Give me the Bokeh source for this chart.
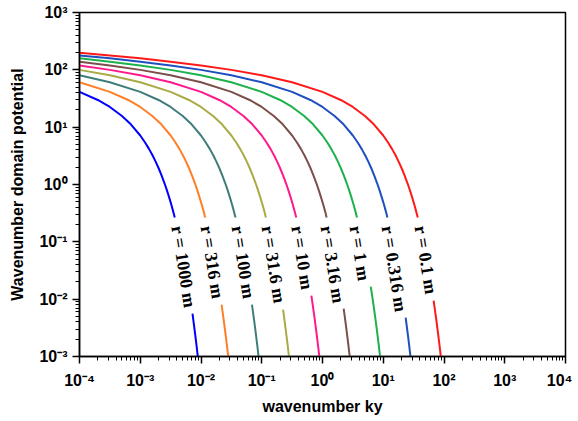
from bokeh.plotting import figure
from bokeh.models import FixedTicker, CustomJSTickFormatter, Range1d, ColumnDataSource
from bokeh.core.properties import value
from bokeh.embed import file_html
from bokeh.resources import INLINE
import math

# ---------------- data ----------------
r_labels = ["r = 1000 m", "r = 316 m", "r = 100 m", "r = 31.6 m", "r = 10 m",
            "r = 3.16 m", "r = 1 m", "r = 0.316 m", "r = 0.1 m"]
colors = ["#0000ff", "#ff7f27", "#3f7d7b", "#a9ab45", "#ff1a8c",
          "#7b4f4a", "#1db14b", "#1f4fbf", "#ff1a1a"]

# upper parts of the curves (above the labels)
ky_r1000_up = [1e-4, 2e-4, 3.16e-4, 5e-4, 7e-4, 1e-3, 1.2e-3, 1.4e-3, 1.6e-3, 1.8e-3, 2e-3,
               2.25e-3, 2.5e-3, 2.75e-3, 3e-3, 3.25e-3, 3.5e-3, 3.7e-3]
pot_r1000_up = [41.3, 29.8, 22.5, 15.7, 11.2, 7.16, 5.41, 4.14, 3.20, 2.48, 1.94, 1.43, 1.06,
                0.79, 0.591, 0.443, 0.333, 0.265]

ky_r316_up = [1e-4, 3.16e-4, 6.33e-4, 1e-3, 1.58e-3, 2.22e-3, 3.16e-3, 3.80e-3, 4.43e-3,
              5.06e-3, 5.70e-3, 6.33e-3, 7.12e-3, 7.91e-3, 8.70e-3, 9.49e-3, 0.0103, 0.0111, 0.0117]
pot_r316_up = [60.7, 41.3, 29.8, 22.5, 15.7, 11.2, 7.16, 5.41, 4.14, 3.20, 2.48, 1.94, 1.43,
               1.06, 0.79, 0.591, 0.443, 0.333, 0.265]

ky_r100_up = [1e-4, 3.16e-4, 1e-3, 2e-3, 3.16e-3, 5e-3, 7e-3, 0.01, 0.012, 0.014, 0.016, 0.018,
              0.02, 0.0225, 0.025, 0.0275, 0.03, 0.0325, 0.035, 0.037]
pot_r100_up = [80.3, 60.7, 41.3, 29.8, 22.5, 15.7, 11.2, 7.16, 5.41, 4.14, 3.20, 2.48, 1.94,
               1.43, 1.06, 0.79, 0.591, 0.443, 0.333, 0.265]

ky_r31_up = [1e-4, 3.16e-4, 1e-3, 3.16e-3, 6.33e-3, 0.01, 0.0158, 0.0222, 0.0316, 0.0380, 0.0443,
             0.0506, 0.0570, 0.0633, 0.0712, 0.0791, 0.0870, 0.0949, 0.103, 0.111, 0.117]
pot_r31_up = [99.8, 80.3, 60.7, 41.3, 29.8, 22.5, 15.7, 11.2, 7.16, 5.41, 4.14, 3.20, 2.48,
              1.94, 1.43, 1.06, 0.79, 0.591, 0.443, 0.333, 0.265]

ky_r10_up = [1e-4, 3.16e-4, 1e-3, 3.16e-3, 0.01, 0.02, 0.0316, 0.05, 0.07, 0.1, 0.12, 0.14, 0.16,
             0.18, 0.2, 0.225, 0.25, 0.275, 0.3, 0.325, 0.35, 0.37]
pot_r10_up = [119.4, 99.8, 80.3, 60.7, 41.3, 29.8, 22.5, 15.7, 11.2, 7.16, 5.41, 4.14, 3.20,
              2.48, 1.94, 1.43, 1.06, 0.79, 0.591, 0.443, 0.333, 0.265]

ky_r3_up = [1e-4, 3.16e-4, 1e-3, 3.16e-3, 0.01, 0.0316, 0.0633, 0.1, 0.158, 0.222, 0.316, 0.380,
            0.443, 0.506, 0.570, 0.633, 0.712, 0.791, 0.870, 0.949, 1.03, 1.11, 1.17]
pot_r3_up = [139.0, 119.4, 99.8, 80.3, 60.7, 41.3, 29.8, 22.5, 15.7, 11.2, 7.16, 5.41, 4.14,
             3.20, 2.48, 1.94, 1.43, 1.06, 0.79, 0.591, 0.443, 0.333, 0.265]

ky_r1_up = [1e-4, 3.16e-4, 1e-3, 3.16e-3, 0.01, 0.0316, 0.1, 0.2, 0.316, 0.5, 0.7, 1.0, 1.2, 1.4,
            1.6, 1.8, 2.0, 2.25, 2.5, 2.75, 3.0, 3.25, 3.5, 3.7]
pot_r1_up = [158.5, 139.0, 119.4, 99.8, 80.3, 60.7, 41.3, 29.8, 22.5, 15.7, 11.2, 7.16, 5.41,
             4.14, 3.20, 2.48, 1.94, 1.43, 1.06, 0.79, 0.591, 0.443, 0.333, 0.265]

ky_r03_up = [1e-4, 3.16e-4, 1e-3, 3.16e-3, 0.01, 0.0316, 0.1, 0.316, 0.633, 1.0, 1.58, 2.22, 3.16,
             3.80, 4.43, 5.06, 5.70, 6.33, 7.12, 7.91, 8.70, 9.49, 10.3, 11.1, 11.7]
pot_r03_up = [178.2, 158.5, 139.0, 119.4, 99.8, 80.3, 60.7, 41.3, 29.8, 22.5, 15.7, 11.2, 7.16,
              5.41, 4.14, 3.20, 2.48, 1.94, 1.43, 1.06, 0.79, 0.591, 0.443, 0.333, 0.265]

ky_r01_up = [1e-4, 3.16e-4, 1e-3, 3.16e-3, 0.01, 0.0316, 0.1, 0.316, 1, 2, 3.16, 5, 7, 10, 12, 14,
             16, 18, 20, 22.5, 25, 27.5, 30, 32.5, 35, 37]
pot_r01_up = [197.7, 178.2, 158.5, 139.0, 119.4, 99.8, 80.3, 60.7, 41.3, 29.8, 22.5, 15.7, 11.2,
              7.16, 5.41, 4.14, 3.20, 2.48, 1.94, 1.43, 1.06, 0.79, 0.591, 0.443, 0.333, 0.265]

# lower parts of the curves (below the labels)
ky_r1000_lo = [7.24e-3, 7.5e-3, 8e-3, 8.5e-3, 9e-3, 9.5e-3]
pot_r1000_lo = [5.58e-3, 4.24e-3, 2.49e-3, 1.465e-3, 8.65e-4, 5.1e-4]
ky_r316_lo = [0.02184, 0.02215, 0.02373, 0.02532, 0.0269, 0.02848, 0.03006]
pot_r316_lo = [8.02e-3, 7.22e-3, 4.24e-3, 2.49e-3, 1.465e-3, 8.65e-4, 5.1e-4]
ky_r100_lo = [0.069, 0.07, 0.075, 0.08, 0.085, 0.09, 0.095]
pot_r100_lo = [8.02e-3, 7.22e-3, 4.24e-3, 2.49e-3, 1.465e-3, 8.65e-4, 5.1e-4]
ky_r31_lo = [0.2244, 0.2373, 0.2532, 0.269, 0.2848, 0.3006]
pot_r31_lo = [6.56e-3, 4.24e-3, 2.49e-3, 1.465e-3, 8.65e-4, 5.1e-4]
ky_r10_lo = [0.656, 0.7, 0.75, 0.8, 0.85, 0.9, 0.95]
pot_r10_lo = [0.01151, 7.22e-3, 4.24e-3, 2.49e-3, 1.465e-3, 8.65e-4, 5.1e-4]
ky_r3_lo = [2.231, 2.373, 2.532, 2.69, 2.848, 3.006]
pot_r3_lo = [6.83e-3, 4.24e-3, 2.49e-3, 1.465e-3, 8.65e-4, 5.1e-4]
ky_r1_lo = [6.23, 6.5, 7, 7.5, 8, 8.5, 9, 9.5]
pot_r1_lo = [0.0165, 0.01233, 7.22e-3, 4.24e-3, 2.49e-3, 1.465e-3, 8.65e-4, 5.1e-4]
ky_r03_lo = [23.39, 23.73, 25.32, 26.9, 28.48, 30.06]
pot_r03_lo = [4.75e-3, 4.24e-3, 2.49e-3, 1.465e-3, 8.65e-4, 5.1e-4]
ky_r01_lo = [67.5, 70, 75, 80, 85, 90, 95]
pot_r01_lo = [9.42e-3, 7.22e-3, 4.24e-3, 2.49e-3, 1.465e-3, 8.65e-4, 5.1e-4]

# label anchor positions (data coordinates)
label_ky = [4.06e-3, 0.0123, 0.0399, 0.1245, 0.384, 1.164, 3.49, 11.75, 41.0]
label_pot = [0.19, 0.19, 0.19, 0.19, 0.19, 0.19, 0.19, 0.19, 0.19]

x_decades = [1e-4, 1e-3, 1e-2, 1e-1, 1e0, 1e1, 1e2, 1e3, 1e4]
y_decades = [1e-3, 1e-2, 1e-1, 1e0, 1e1, 1e2, 1e3]

uppers = [(ky_r1000_up, pot_r1000_up), (ky_r316_up, pot_r316_up), (ky_r100_up, pot_r100_up),
          (ky_r31_up, pot_r31_up), (ky_r10_up, pot_r10_up), (ky_r3_up, pot_r3_up),
          (ky_r1_up, pot_r1_up), (ky_r03_up, pot_r03_up), (ky_r01_up, pot_r01_up)]
lowers = [(ky_r1000_lo, pot_r1000_lo), (ky_r316_lo, pot_r316_lo), (ky_r100_lo, pot_r100_lo),
          (ky_r31_lo, pot_r31_lo), (ky_r10_lo, pot_r10_lo), (ky_r3_lo, pot_r3_lo),
          (ky_r1_lo, pot_r1_lo), (ky_r03_lo, pot_r03_lo), (ky_r01_lo, pot_r01_lo)]

# ---------------- figure ----------------
p = figure(width=572, height=418, x_axis_type="log", y_axis_type="log",
           x_range=Range1d(1e-4, 1e4), y_range=Range1d(1e-3, 1e3),
           output_backend="svg", toolbar_location=None,
           min_border_left=79, min_border_right=7, min_border_top=12, min_border_bottom=62)
p.xgrid.visible = False
p.ygrid.visible = False
p.outline_line_color = "black"
p.outline_line_width = 1.5
p.background_fill_color = "white"
p.border_fill_color = "white"

for (xs, ys), (xl, yl), c in zip(uppers, lowers, colors):
    p.line(xs, ys, line_color=c, line_width=2)
    p.line(xl, yl, line_color=c, line_width=2)

src = ColumnDataSource(dict(x=label_ky, y=label_pot, t=r_labels))
p.text(x="x", y="y", text="t", source=src, angle=math.radians(-81),
       text_font=value("Liberation Serif"), text_font_style="bold",
       text_font_size="18px", text_align="left", text_baseline="middle",
       text_color="black")

fmt = CustomJSTickFormatter(code="""
const e = Math.round(Math.log10(tick));
const sup = {'-':'\u207b','0':'\u2070','1':'\u00b9','2':'\u00b2','3':'\u00b3','4':'\u2074',
             '5':'\u2075','6':'\u2076','7':'\u2077','8':'\u2078','9':'\u2079'};
return '10' + String(e).split('').map(c => sup[c]).join('');
""")

def minor_for(decades):
    out = []
    for d in decades[:-1]:
        for k in range(2, 10):
            out.append(d * k)
    return out

p.xaxis.ticker = FixedTicker(ticks=x_decades, minor_ticks=minor_for(x_decades))
p.yaxis.ticker = FixedTicker(ticks=y_decades, minor_ticks=minor_for(y_decades))

for ax in (p.xaxis[0], p.yaxis[0]):
    ax.formatter = fmt
    ax.axis_line_color = "black"
    ax.axis_line_width = 1.5
    ax.major_tick_in = 0
    ax.major_tick_out = 7
    ax.minor_tick_in = 0
    ax.minor_tick_out = 4
    ax.major_tick_line_width = 1.5
    ax.minor_tick_line_width = 1
    ax.major_tick_line_color = "black"
    ax.minor_tick_line_color = "black"
    ax.major_label_text_font = "Liberation Sans"
    ax.major_label_text_font_style = "bold"
    ax.major_label_text_font_size = "16px"
    ax.major_label_text_color = "black"
    ax.axis_label_text_font = "Liberation Sans"
    ax.axis_label_text_font_style = "bold"
    ax.axis_label_text_font_size = "16px"
    ax.axis_label_text_color = "black"

p.xaxis.axis_label = "wavenumber ky"
p.yaxis.axis_label = "Wavenumber domain potential"
p.xaxis.major_label_standoff = 8
p.xaxis.axis_label_standoff = 6
p.yaxis.major_label_standoff = 5
p.yaxis.axis_label_standoff = 10

open("out.html", "w").write(file_html(p, INLINE))
